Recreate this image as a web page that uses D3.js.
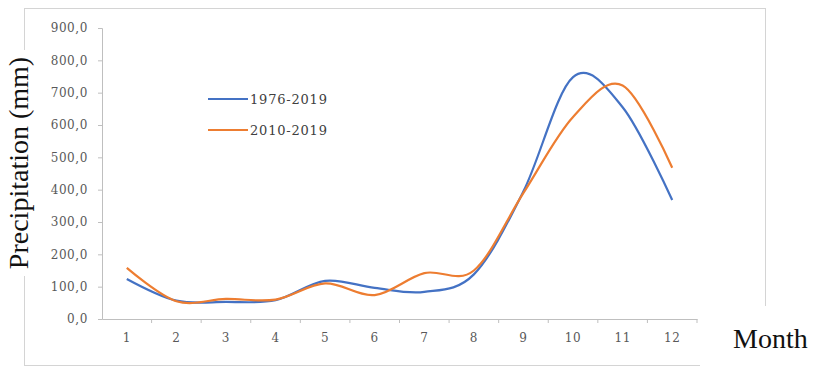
<!DOCTYPE html>
<html>
<head>
<meta charset="utf-8">
<script src="https://cdn.jsdelivr.net/npm/d3@7"></script>
<style>
  body { margin: 0; background: #fff; }
  svg { display: block; }
</style>
</head>
<body>
<script>
var months = ["1", "2", "3", "4", "5", "6", "7", "8", "9", "10", "11", "12"];
var seriesNames = ["1976-2019", "2010-2019"];
var longTerm = [124, 57, 53, 58, 118, 96, 84, 138, 395, 748, 655, 368];
var recent = [158, 55, 62, 60, 110, 74, 142, 150, 390, 625, 722, 468];
var yTicks = [0, 100, 200, 300, 400, 500, 600, 700, 800, 900];
var colors = ["#4472C4", "#ED7D31"];

var w = 813;
var h = 371;

var svg = d3.select("body")
    .append("svg")
    .attr("width", w)
    .attr("height", h);

// chart frame
svg.append("rect")
    .attr("x", 24.5).attr("y", 8.5)
    .attr("width", 741).attr("height", 357)
    .attr("fill", "#fff")
    .attr("stroke", "#d4d4d4");

var xScale = d3.scaleBand()
    .domain(months)
    .range([102, 697]);

var yScale = d3.scaleLinear()
    .domain([0, 900])
    .range([319, 28]);

// y axis
var yAxis = svg.append("g")
    .attr("transform", "translate(102,0)")
    .call(d3.axisLeft(yScale)
        .tickValues(yTicks)
        .tickSize(4)
        .tickPadding(10)
        .tickFormat(function (d) { return d3.format(".1f")(d).replace(".", ","); }));
yAxis.select(".domain").attr("stroke", "#bfbfbf");
yAxis.selectAll(".tick line").attr("stroke", "#bfbfbf");
yAxis.selectAll("text")
    .attr("font-family", "DejaVu Serif")
    .attr("font-size", 12)
    .attr("letter-spacing", 0.6)
    .attr("fill", "#595959");

// x axis, ticks between categories
var xAxis = svg.append("g")
    .attr("transform", "translate(0,319)")
    .call(d3.axisBottom(xScale).tickSize(0).tickPadding(14));
xAxis.select(".domain").attr("stroke", "#bfbfbf");
xAxis.selectAll("text")
    .attr("font-family", "DejaVu Serif")
    .attr("font-size", 12)
    .attr("letter-spacing", 0.6)
    .attr("fill", "#595959");
xAxis.selectAll(".bound")
    .data(months)
    .enter()
    .append("line")
    .attr("class", "bound")
    .attr("x1", function (d) { return xScale(d) + xScale.bandwidth(); })
    .attr("x2", function (d) { return xScale(d) + xScale.bandwidth(); })
    .attr("y1", 0).attr("y2", 4)
    .attr("stroke", "#bfbfbf");

// smoothed lines (Excel style)
var line = d3.line()
    .x(function (d, i) { return xScale(months[i]) + xScale.bandwidth() / 2; })
    .y(function (d) { return yScale(d); })
    .curve(d3.curveCardinal.tension(0));

svg.selectAll(".series")
    .data([longTerm, recent])
    .enter()
    .append("path")
    .attr("class", "series")
    .attr("d", line)
    .attr("fill", "none")
    .attr("stroke", function (d, i) { return colors[i]; })
    .attr("stroke-width", 2.2);

// legend
var legend = svg.selectAll(".legend")
    .data(seriesNames)
    .enter()
    .append("g")
    .attr("class", "legend")
    .attr("transform", function (d, i) { return "translate(208," + (99 + i * 31) + ")"; });
legend.append("line")
    .attr("x1", 0).attr("x2", 40)
    .attr("stroke", function (d, i) { return colors[i]; })
    .attr("stroke-width", 2.2);
legend.append("text")
    .attr("x", 42).attr("y", 5)
    .attr("font-family", "DejaVu Serif")
    .attr("font-size", 13)
    .attr("letter-spacing", 0.8)
    .attr("fill", "#404040")
    .text(function (d) { return d; });

// y axis title
svg.append("rect")
    .attr("x", 8).attr("y", 50)
    .attr("width", 28).attr("height", 226)
    .attr("fill", "#fff");
svg.append("text")
    .attr("transform", "translate(28,163) rotate(-90)")
    .attr("text-anchor", "middle")
    .attr("font-family", "Liberation Serif")
    .attr("font-size", 28)
    .attr("fill", "#111")
    .text("Precipitation (mm)");

// x axis title
svg.append("rect")
    .attr("x", 700).attr("y", 306)
    .attr("width", 113).attr("height", 65)
    .attr("fill", "#fff");
svg.append("text")
    .attr("x", 733).attr("y", 348)
    .attr("font-family", "Liberation Serif")
    .attr("font-size", 28)
    .attr("fill", "#111")
    .text("Month");
</script>
</body>
</html>
